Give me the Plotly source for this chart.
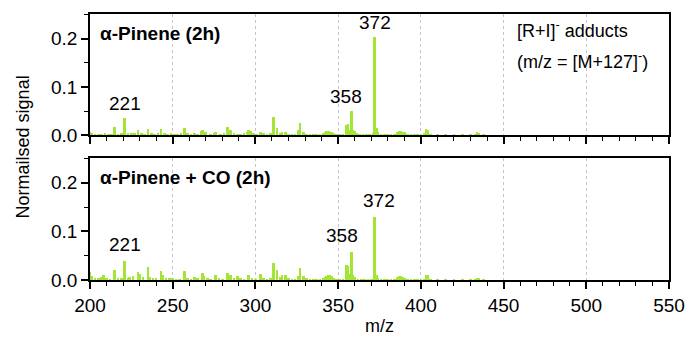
import plotly.graph_objects as go

# ---------------- data ----------------
mz_top = [200, 201, 203, 205, 207, 209, 211, 213, 215, 217, 219, 221, 223, 225, 227, 229, 231, 233, 235, 237,
          239, 241, 243, 245, 247, 249, 251, 253, 255, 257, 259, 261, 263, 265, 267, 268, 270, 273, 275, 276,
          279, 281, 283, 285, 287, 289, 291, 293, 295, 296, 297, 299, 301, 303, 305, 307, 309, 311, 313, 315,
          316, 318, 320, 322, 324, 326, 327, 329, 331, 333, 335, 337, 339, 341, 342, 343, 344, 345, 346, 347,
          349, 351, 353, 355, 356, 357, 358, 359, 360, 361, 363, 365, 367, 369, 371, 372, 373, 374, 376, 378,
          380, 382, 384, 386, 387, 388, 389, 390, 392, 394, 396, 398, 400, 402, 403, 404, 406, 410, 415, 420,
          425, 430, 433, 434, 435, 438]
sig_top = [0.006, 0.005, 0.003, 0.002, 0.003, 0.004, 0.002, 0.003, 0.017, 0.003, 0.004, 0.035, 0.004, 0.005, 0.004, 0.010, 0.004, 0.003, 0.013, 0.004,
           0.002, 0.004, 0.013, 0.005, 0.003, 0.004, 0.003, 0.002, 0.004, 0.015, 0.004, 0.002, 0.005, 0.003, 0.008, 0.011, 0.006, 0.003, 0.004, 0.006,
           0.003, 0.004, 0.018, 0.010, 0.004, 0.002, 0.003, 0.004, 0.007, 0.010, 0.008, 0.004, 0.003, 0.006, 0.004, 0.002, 0.004, 0.037, 0.016, 0.005,
           0.006, 0.006, 0.003, 0.002, 0.003, 0.010, 0.026, 0.007, 0.003, 0.002, 0.002, 0.003, 0.003, 0.005, 0.007, 0.008, 0.008, 0.007, 0.006, 0.004,
           0.002, 0.002, 0.002, 0.022, 0.024, 0.012, 0.051, 0.012, 0.008, 0.004, 0.003, 0.002, 0.002, 0.002, 0.004, 0.203, 0.015, 0.006, 0.003, 0.002,
           0.003, 0.002, 0.002, 0.007, 0.008, 0.008, 0.007, 0.006, 0.002, 0.002, 0.001, 0.002, 0.002, 0.004, 0.014, 0.012, 0.002, 0.001, 0.001, 0.001,
           0.001, 0.002, 0.003, 0.006, 0.004, 0.001]

mz_bot = [200, 201, 203, 205, 207, 208, 210, 212, 215, 217, 219, 221, 223, 224, 226, 229, 230, 232, 235, 236,
          238, 240, 243, 244, 246, 248, 250, 252, 254, 257, 259, 261, 263, 265, 268, 269, 271, 273, 276, 278,
          280, 283, 285, 287, 289, 291, 293, 296, 298, 300, 303, 305, 307, 309, 311, 313, 315, 316, 318, 320,
          322, 324, 326, 327, 329, 331, 333, 335, 337, 339, 341, 342, 343, 344, 345, 346, 347, 349, 351, 353,
          355, 356, 357, 358, 359, 360, 362, 364, 366, 368, 370, 372, 373, 374, 376, 378, 380, 382, 384, 386,
          387, 388, 389, 390, 392, 394, 396, 398, 400, 402, 403, 404, 406, 410, 415, 420, 425, 430, 433, 434,
          435, 438]
sig_bot = [0.017, 0.008, 0.004, 0.004, 0.006, 0.010, 0.004, 0.003, 0.020, 0.004, 0.004, 0.039, 0.005, 0.006, 0.008, 0.017, 0.012, 0.006, 0.026, 0.006,
           0.004, 0.004, 0.019, 0.010, 0.004, 0.004, 0.004, 0.003, 0.003, 0.018, 0.004, 0.003, 0.006, 0.004, 0.015, 0.008, 0.005, 0.003, 0.010, 0.004,
           0.003, 0.015, 0.010, 0.004, 0.008, 0.004, 0.003, 0.011, 0.005, 0.003, 0.013, 0.005, 0.003, 0.004, 0.036, 0.020, 0.006, 0.010, 0.010, 0.004,
           0.003, 0.003, 0.008, 0.025, 0.008, 0.004, 0.003, 0.002, 0.003, 0.003, 0.005, 0.007, 0.009, 0.010, 0.010, 0.008, 0.005, 0.003, 0.002, 0.003,
           0.032, 0.030, 0.012, 0.058, 0.010, 0.006, 0.003, 0.002, 0.002, 0.002, 0.003, 0.130, 0.010, 0.005, 0.003, 0.002, 0.002, 0.002, 0.003, 0.006,
           0.008, 0.008, 0.006, 0.004, 0.002, 0.002, 0.002, 0.002, 0.002, 0.003, 0.011, 0.010, 0.003, 0.002, 0.002, 0.001, 0.001, 0.002, 0.003, 0.005,
           0.004, 0.001]

panel_titles = ["α-Pinene (2h)", "α-Pinene + CO (2h)"]
peak_labels_top = [221, 358, 372]
peak_labels_bot = [221, 358, 372]
x_ticks = [200, 250, 300, 350, 400, 450, 500, 550]
y_ticks = [0.0, 0.1, 0.2]
y_tick_text = ["0.0", "0.1", "0.2"]

# ---------------- figure ----------------
GREEN = "#a2e535"
FONT = "Liberation Sans, Arial, sans-serif"
TICK_SIZE = 19
TEXT_SIZE = 19

fig = go.Figure()
fig.add_trace(go.Bar(x=mz_top, y=sig_top, width=1.6, marker=dict(color=GREEN, line=dict(width=0)),
                     xaxis="x", yaxis="y", showlegend=False))
fig.add_trace(go.Bar(x=mz_bot, y=sig_bot, width=1.6, marker=dict(color=GREEN, line=dict(width=0)),
                     xaxis="x2", yaxis="y2", showlegend=False))

xcommon = dict(range=[200, 550], tickvals=x_ticks, ticks="outside", ticklen=7, tickwidth=1.5,
               tickcolor="black", showline=True, linecolor="black", linewidth=1.5, mirror=True,
               showgrid=True, gridcolor="#c4c4c4", griddash="dot", gridwidth=1,
               minor=dict(dtick=10, ticks="outside", ticklen=4, tickwidth=1.2, tickcolor="black", showgrid=False),
               zeroline=False, tickfont=dict(size=TICK_SIZE, color="black", family=FONT))
ycommon = dict(range=[0, 0.251], tickvals=y_ticks, ticktext=y_tick_text, ticks="outside", ticklen=7,
               tickwidth=1.5, tickcolor="black", showline=True, linecolor="black", linewidth=1.5, mirror=True,
               showgrid=False, zeroline=False,
               minor=dict(dtick=0.05, ticks="outside", ticklen=4, tickwidth=1.2, tickcolor="black", showgrid=False),
               tickfont=dict(size=TICK_SIZE, color="black", family=FONT))

fig.update_layout(
    width=697, height=345,
    margin=dict(l=90, r=19, t=12, b=63),
    paper_bgcolor="white", plot_bgcolor="white",
    font=dict(family=FONT, color="black", size=TICK_SIZE),
    bargap=0,
    xaxis=dict(**xcommon, domain=[0, 1], anchor="y", showticklabels=False, matches="x2"),
    yaxis=dict(**ycommon, domain=[0.544, 1], anchor="x"),
    xaxis2=dict(**xcommon, domain=[0, 1], anchor="y2",
                title=dict(text="m/z", font=dict(size=18, family=FONT), standoff=5)),
    yaxis2=dict(**ycommon, domain=[0, 0.459], anchor="x2"),
)

annotations = []
# panel titles
annotations.append(dict(text="<b>" + panel_titles[0] + "</b>", xref="x", yref="y", x=205, y=0.21,
                        xanchor="left", yanchor="middle", showarrow=False, font=dict(size=TEXT_SIZE)))
annotations.append(dict(text="<b>" + panel_titles[1] + "</b>", xref="x2", yref="y2", x=205, y=0.21,
                        xanchor="left", yanchor="middle", showarrow=False, font=dict(size=TEXT_SIZE)))
annotations.append(dict(text="[R+I]<sup>-</sup> adducts", xref="x", yref="y", x=457, y=0.218,
                        xanchor="left", yanchor="middle", showarrow=False, font=dict(size=TEXT_SIZE - 1)))
annotations.append(dict(text="(m/z = [M+127]<sup>-</sup>)", xref="x", yref="y", x=457, y=0.155,
                        xanchor="left", yanchor="middle", showarrow=False, font=dict(size=TEXT_SIZE - 1)))

# peak labels
label_dx_top = {221: 0, 358: -3, 372: 0.5}
label_dx_bot = {221: 0, 358: -5.5, 372: 2.5}
for m in peak_labels_top:
    v = max(s for mm, s in zip(mz_top, sig_top) if mm == m)
    annotations.append(dict(text=str(m), xref="x", yref="y", x=m + label_dx_top[m], y=v,
                            xanchor="center", yanchor="bottom", yshift=2, showarrow=False,
                            font=dict(size=TEXT_SIZE)))
for m in peak_labels_bot:
    v = max(s for mm, s in zip(mz_bot, sig_bot) if mm == m)
    annotations.append(dict(text=str(m), xref="x2", yref="y2", x=m + label_dx_bot[m], y=v,
                            xanchor="center", yanchor="bottom", yshift=4, showarrow=False,
                            font=dict(size=TEXT_SIZE)))
# y-axis title shared
annotations.append(dict(text="Normailsed signal", xref="paper", yref="paper", x=-0.115, y=0.5,
                        xanchor="center", yanchor="middle", textangle=-90, showarrow=False,
                        font=dict(size=18)))
fig.update_layout(annotations=annotations)

fig.write_html("out.html")
